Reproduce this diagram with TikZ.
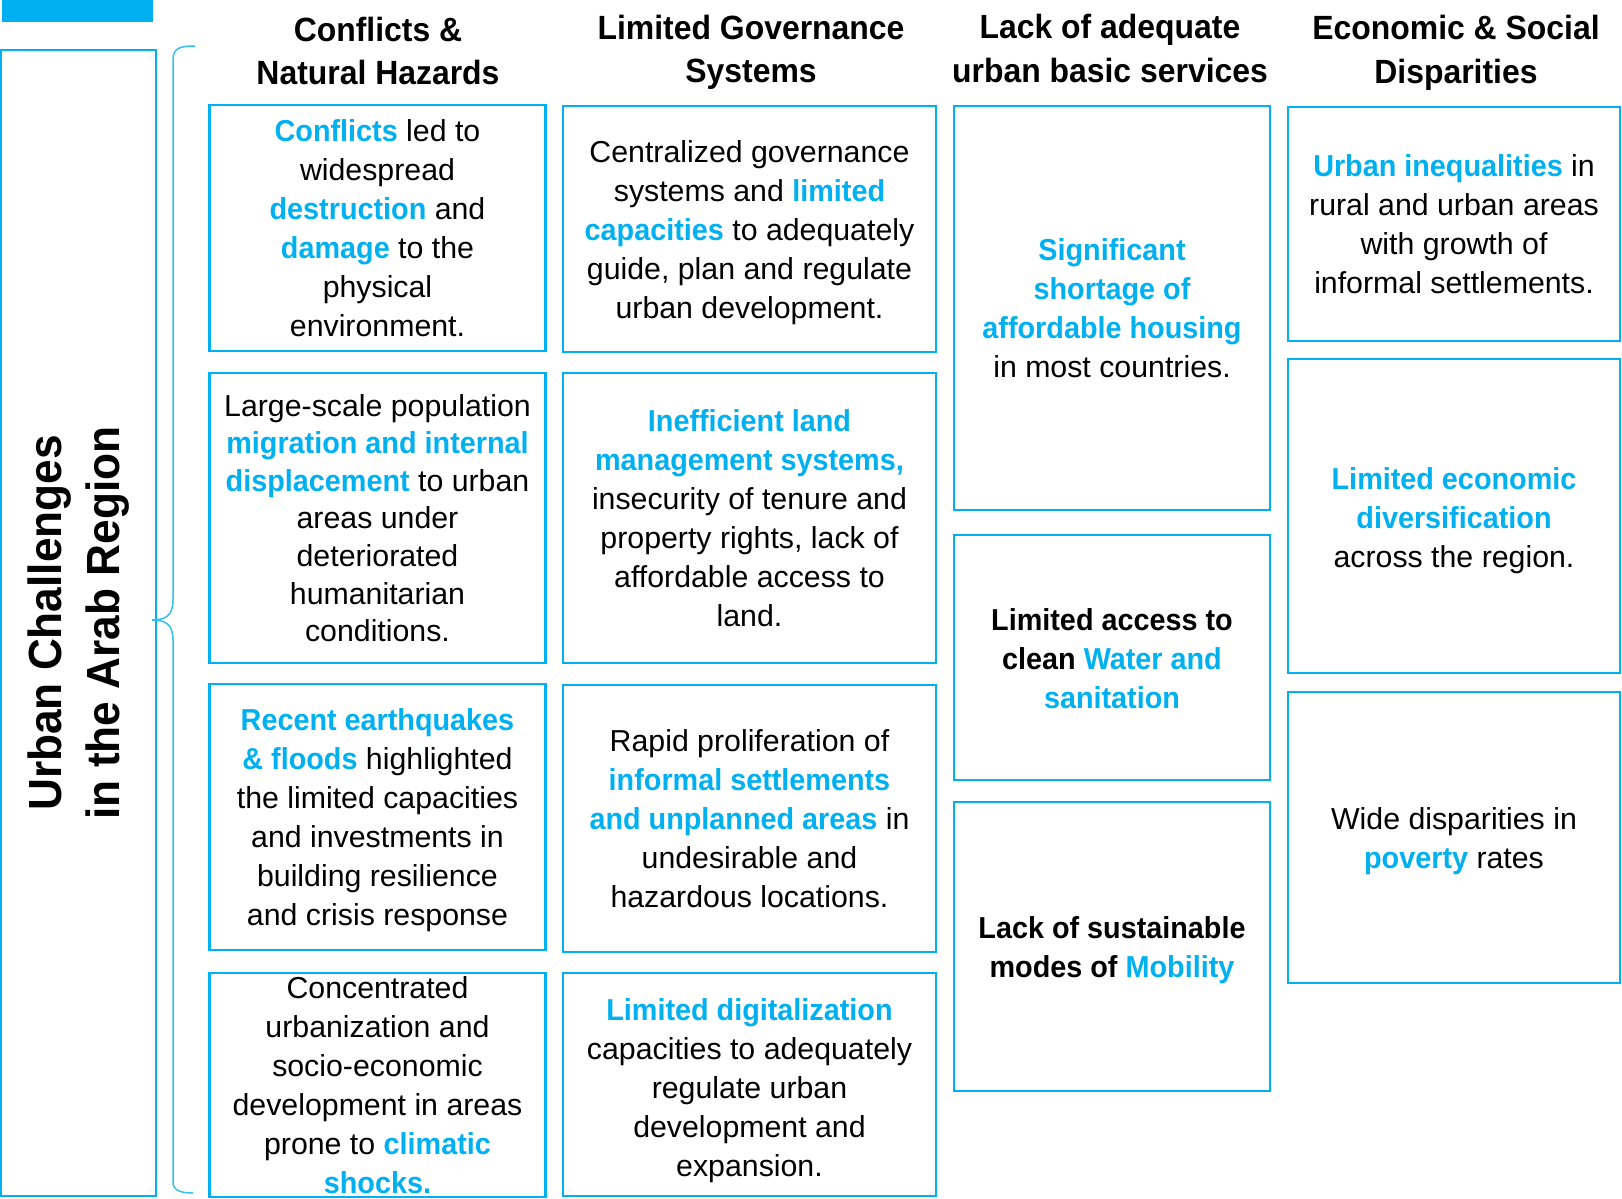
\documentclass[tikz,border=0pt]{standalone}
\usepackage{fontspec}
\setmainfont{Liberation Sans}[BoldFeatures={FakeStretch=0.95}]
\usetikzlibrary{positioning}
\definecolor{ublue}{HTML}{00B0F0}
\newcommand{\blu}[1]{\textbf{\color{ublue}#1}}

\begin{document}
\begin{tikzpicture}[x=1pt,y=-1pt]
		\tikzstyle{cell}=[rectangle, draw=ublue, line width=2.3pt, inner sep=0pt, align=center, font=\fontsize{30.3}{39}\selectfont]
		\tikzstyle{head}=[align=center, inner sep=0pt, font=\fontsize{33.6}{43.5}\selectfont\bfseries]
		\tikzstyle{col1}=[cell, minimum width=336pt]
		\tikzstyle{col2}=[cell, minimum width=373pt]
		\tikzstyle{col3}=[cell, minimum width=316pt]
		\tikzstyle{col4}=[cell, minimum width=332pt]
		\tikzstyle{brace line}=[draw=ublue!80, line width=1.5pt]

		\useasboundingbox (0,0) rectangle (1622,1199);

		% left side
		\node [fill=ublue, minimum width=151pt, minimum height=22pt, inner sep=0pt] (topbar) at (77.5,11) {};
		\node [rectangle, draw=ublue, line width=2.3pt, minimum width=155pt, minimum height=1146pt, inner sep=0pt] (titlebox) at (78.5,623) {};
		\node [rotate=90, align=center, inner sep=0pt, font=\fontsize{46.5}{58}\selectfont\bfseries] (title) at (titlebox.center) {Urban Challenges\\in the Arab Region};
		\draw [brace line] (195,46) .. controls (180,46) and (173,48) .. (173,60) -- (173,600)
			.. controls (173,616) and (165,620) .. (152,620)
			.. controls (165,620) and (173,624) .. (173,640) -- (173,1182)
			.. controls (173,1190) and (180,1193) .. (193,1193);

		% headers
		\node [head] (h1) at (378,51) {Conflicts \&\\Natural Hazards};
		\node [head] (h2) at (751,52.5) {Limited Governance\\Systems};
		\node [head] (h3) at (1110,48.5) {Lack of adequate\\urban basic services};
		\node [head] (h4) at (1456,53) {Economic \& Social\\Disparities};

		% conflicts
		\node [col1, minimum height=246pt] (c1a) at (377.5,228) {\blu{Conflicts} led to\\widespread\\\blu{destruction} and\\\blu{damage} to the\\physical\\environment.};
		\node [col1, minimum height=290pt, font=\fontsize{30.3}{37.6}\selectfont] (c1b) at (377.5,518) {Large-scale population\\\blu{migration and internal}\\\blu{displacement} to urban\\areas under\\deteriorated\\humanitarian\\conditions.};
		\node [col1, minimum height=266pt] (c1c) at (377.5,817) {};
		\node [align=center, font=\fontsize{30.3}{39}\selectfont] (c1ctext) at ([yshift=-3pt]c1c.center) {\blu{Recent earthquakes}\\\blu{\& floods} highlighted\\the limited capacities\\and investments in\\building resilience\\and crisis response};
		\node [col1, minimum height=224pt] (c1d) at (377.5,1085) {Concentrated\\urbanization and\\socio-economic\\development in areas\\prone to \blu{climatic}\\\blu{shocks.}};

		% governance
		\node [col2, minimum height=246pt] (c2a) at (749.5,229) {};
		\node [align=center, font=\fontsize{30.3}{39}\selectfont] (c2atext) at ([yshift=-4pt]c2a.center) {Centralized governance\\systems and \blu{limited}\\\blu{capacities} to adequately\\guide, plan and regulate\\urban development.};
		\node [col2, minimum height=290pt] (c2b) at (749.5,518) {\blu{Inefficient land}\\\blu{management systems,}\\insecurity of tenure and\\property rights, lack of\\affordable access to\\land.};
		\node [col2, minimum height=267pt] (c2c) at (749.5,818.5) {Rapid proliferation of\\\blu{informal settlements}\\\blu{and unplanned areas} in\\undesirable and\\hazardous locations.};
		\node [col2, minimum height=223pt] (c2d) at (749.5,1084.5) {};
		\node [align=center, font=\fontsize{30.3}{39}\selectfont] (c2dtext) at ([yshift=-6pt]c2d.center) {\blu{Limited digitalization}\\capacities to adequately\\regulate urban\\development and\\expansion.};

		% basic services
		\node [col3, minimum height=404pt] (c3a) at (1112,308) {\blu{Significant}\\\blu{shortage of}\\\blu{affordable housing}\\in most countries.};
		\node [col3, minimum height=245pt] (c3b) at (1112,657.5) {};
		\node [align=center, font=\fontsize{30.3}{39}\selectfont\bfseries] (c3btext) at ([yshift=-1pt]c3b.center) {Limited access to\\clean \blu{Water and}\\\blu{sanitation}};
		\node [col3, minimum height=289pt] (c3c) at (1112,946.5) {};
		\node [align=center, font=\fontsize{30.3}{39}\selectfont\bfseries] (c3ctext) at ([yshift=-4pt]c3c.center) {Lack of sustainable\\modes of \blu{Mobility}};

		% disparities
		\node [col4, minimum height=234pt] (c4a) at (1454,224) {\blu{Urban inequalities} in\\rural and urban areas\\with growth of\\informal settlements.};
		\node [col4, minimum height=314pt] (c4b) at (1454,516) {};
		\node [align=center, font=\fontsize{30.3}{39}\selectfont] (c4btext) at ([yshift=-5pt]c4b.center) {\blu{Limited economic}\\\blu{diversification}\\across the region.};
		\node [col4, minimum height=291pt] (c4c) at (1454,837.5) {};
		\node [align=center, font=\fontsize{30.3}{39}\selectfont] (c4ctext) at ([yshift=-4pt]c4c.center) {Wide disparities in\\\blu{poverty} rates};
	\end{tikzpicture}
\end{document}
